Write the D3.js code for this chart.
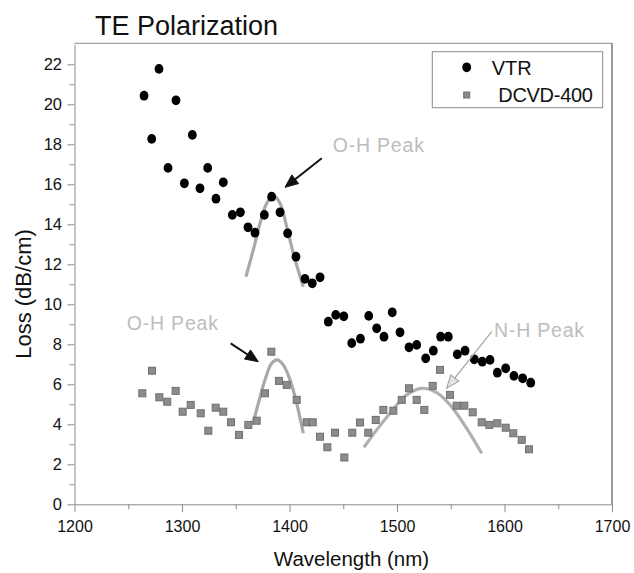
<!DOCTYPE html>
<html>
<head>
<meta charset="utf-8">
<script src="https://cdn.jsdelivr.net/npm/d3@7"></script>
<style>
  html, body { margin: 0; padding: 0; background: #fff; }
  svg { display: block; font-family: "Liberation Sans", Arial, sans-serif; }
</style>
</head>
<body>
<svg id="chart" width="634" height="573"></svg>
<script>
// Waveguide loss spectra, TE polarization
const vtrWavelength = [1264.7, 1271.8, 1278.6, 1287.0, 1294.4, 1302.2, 1309.6, 1316.7, 1323.9, 1331.6,
  1338.4, 1346.8, 1354.3, 1361.4, 1367.9, 1376.6, 1383.4, 1391.2, 1398.3, 1406.0,
  1414.4, 1421.2, 1428.4, 1436.1, 1443.0, 1450.5, 1457.9, 1466.0, 1473.7, 1481.1,
  1487.9, 1495.6, 1502.8, 1511.2, 1518.3, 1526.7, 1533.8, 1540.6, 1547.7, 1556.1,
  1563.3, 1571.9, 1579.3, 1586.5, 1593.3, 1601.1, 1608.8, 1616.9, 1624.4];
const vtrLoss = [20.43, 18.27, 21.77, 16.82, 20.2, 16.05, 18.47, 15.8, 16.82, 15.28,
  16.1, 14.47, 14.6, 13.85, 13.58, 14.47, 15.38, 14.6, 13.55, 12.38,
  11.27, 11.05, 11.35, 9.13, 9.47, 9.4, 8.06, 8.28, 9.42, 8.8,
  8.38, 9.6, 8.6, 7.85, 7.97, 7.3, 7.68, 8.38, 8.38, 7.5,
  7.68, 7.25, 7.13, 7.22, 6.58, 6.8, 6.42, 6.3, 6.08];

const dcvdWavelength = [1263.1, 1272.1, 1278.9, 1286.3, 1294.1, 1300.6, 1308.1, 1317.4, 1324.5, 1331.3,
  1338.4, 1345.6, 1353.0, 1361.7, 1369.5, 1377.2, 1383.1, 1390.2, 1397.4, 1406.7,
  1416.0, 1421.6, 1428.4, 1435.2, 1442.3, 1451.0, 1458.4, 1465.6, 1473.3, 1480.2,
  1487.3, 1496.6, 1504.4, 1511.2, 1518.3, 1525.4, 1533.2, 1540.0, 1549.3, 1555.5,
  1562.6, 1570.4, 1578.8, 1585.9, 1593.3, 1601.1, 1608.2, 1616.0, 1622.8];
const dcvdLoss = [5.55, 6.68, 5.35, 5.13, 5.67, 4.63, 4.97, 4.55, 3.68, 4.83,
  4.63, 4.1, 3.47, 3.97, 4.18, 5.55, 7.63, 6.17, 5.97, 5.22,
  4.1, 4.1, 3.38, 2.85, 3.58, 2.34, 3.58, 4.09, 3.58, 4.22,
  4.72, 4.68, 5.22, 5.8, 5.22, 4.72, 5.92, 6.72, 5.47, 4.93,
  4.93, 4.6, 4.1, 3.97, 4.05, 3.83, 3.55, 3.22, 2.75];

// Peak fit curves (sampled along the drawn fits)
const fitVtrOH_x = [1359.5, 1366.3, 1372.6, 1378.8, 1385.0, 1391.2, 1397.4, 1403.5, 1412.8];
const fitVtrOH_y = [11.38, 12.72, 14.05, 15.05, 15.43, 15.05, 13.88, 12.55, 10.88];
const fitDcvdOH_x = [1365.8, 1371.0, 1377.2, 1383.4, 1388.7, 1394.2, 1400.5, 1406.7, 1412.8];
const fitDcvdOH_y = [3.97, 5.05, 6.22, 7.05, 7.22, 6.97, 6.22, 5.05, 3.55];
const fitDcvdNH_x = [1469.3, 1481.1, 1493.5, 1509.0, 1523.0, 1537.0, 1549.3, 1564.8, 1578.8];
const fitDcvdNH_y = [2.85, 3.72, 4.55, 5.47, 5.8, 5.58, 4.97, 3.8, 2.55];

// Axis ticks
const xTicks = [1200, 1300, 1400, 1500, 1600, 1700];
const xMinorTicks = [1250, 1350, 1450, 1550, 1650];
const yTicks = [0, 2, 4, 6, 8, 10, 12, 14, 16, 18, 20, 22];
const yMinorTicks = [1, 3, 5, 7, 9, 11, 13, 15, 17, 19, 21];

// Annotation labels and arrows (in data units)
const noteText = ["O-H Peak", "O-H Peak", "N-H Peak"];
const noteTextX = [1440.2, 1248.6, 1590.2];
const noteTextY = [17.63, 8.72, 8.38];
const arrowFromX = [1430.0, 1345.3, 1588.1];
const arrowFromY = [17.3, 8.05, 8.63];
const arrowToX = [1395.8, 1371.0, 1546.2];
const arrowToY = [15.85, 7.13, 5.8];
const arrowStyle = ["dark", "dark", "light"];

const seriesNames = ["VTR", "DCVD-400"];

const svg = d3.select("#chart");
const plotLeft = 74.5, plotRight = 612, plotTop = 44.3, plotBottom = 504.3;

const x = d3.scaleLinear().domain([1200, 1700]).range([plotLeft, plotRight]);
const y = d3.scaleLinear().domain([0, 23]).range([plotBottom, plotTop]);

// Frame: top and right borders
svg.append("line").attr("x1", plotLeft).attr("x2", plotRight).attr("y1", plotTop - 1).attr("y2", plotTop - 1)
  .attr("stroke", "#8a8a8a").attr("stroke-width", 1);
svg.append("line").attr("x1", plotRight).attr("x2", plotRight).attr("y1", plotTop - 1).attr("y2", plotBottom)
  .attr("stroke", "#555").attr("stroke-width", 1.2);

// X axis
const xAxis = svg.append("g").attr("transform", `translate(0,${plotBottom})`)
  .call(d3.axisBottom(x).tickValues(xTicks).tickFormat(d3.format("d")).tickSize(8).tickSizeOuter(0));
const xMinor = svg.append("g").attr("transform", `translate(0,${plotBottom})`)
  .call(d3.axisBottom(x).tickValues(xMinorTicks).tickFormat("").tickSize(5).tickSizeOuter(0));
xMinor.select(".domain").remove();

// Y axis
const yAxis = svg.append("g").attr("transform", `translate(${plotLeft},0)`)
  .call(d3.axisLeft(y).tickValues(yTicks).tickFormat(d3.format("d")).tickSize(7).tickSizeOuter(0));
const yMinor = svg.append("g").attr("transform", `translate(${plotLeft},0)`)
  .call(d3.axisLeft(y).tickValues(yMinorTicks).tickFormat("").tickSize(5).tickSizeOuter(0));
yMinor.select(".domain").remove();

[xAxis, xMinor, yAxis, yMinor].forEach(g => {
  g.selectAll(".domain").attr("stroke", "#8c8c8c");
  g.selectAll(".tick line").attr("stroke", "#8c8c8c");
  g.selectAll(".tick text").attr("fill", "#111").style("font-family", "'Liberation Sans', Arial, sans-serif");
});
xAxis.selectAll(".tick text").style("font-size", "16px").attr("dy", "1.05em");
yAxis.selectAll(".tick text").style("font-size", "16.5px").attr("x", -12.5);

// Axis titles
svg.append("text").attr("x", 351.5).attr("y", 566).attr("text-anchor", "middle")
  .style("font-size", "20.5px").attr("fill", "#111").text("Wavelength (nm)");
svg.append("text").attr("transform", "translate(31,294) rotate(-90)").attr("text-anchor", "middle")
  .style("font-size", "22px").attr("fill", "#111").text("Loss (dB/cm)");

// Title
svg.append("text").attr("x", 95).attr("y", 35).style("font-size", "27px").attr("fill", "#111")
  .text("TE Polarization");

// Fit curves
const fitLine = d3.line().x(d => x(d[0])).y(d => y(d[1])).curve(d3.curveCatmullRom.alpha(0.5));
const fits = [
  { xs: fitVtrOH_x, ys: fitVtrOH_y, color: "#a9a9a9" },
  { xs: fitDcvdOH_x, ys: fitDcvdOH_y, color: "#a9a9a9" },
  { xs: fitDcvdNH_x, ys: fitDcvdNH_y, color: "#b0b0b0" }
];
fits.forEach(f => {
  svg.append("path").datum(f.xs.map((v, i) => [v, f.ys[i]]))
    .attr("d", fitLine).attr("fill", "none").attr("stroke", f.color)
    .attr("stroke-width", 3.2).attr("stroke-linecap", "butt");
});

// DCVD-400 squares
const sq = 7;
svg.append("g").selectAll("rect").data(dcvdWavelength.map((v, i) => [v, dcvdLoss[i]]))
  .join("rect")
  .attr("x", d => x(d[0]) - sq / 2).attr("y", d => y(d[1]) - sq / 2)
  .attr("width", sq).attr("height", sq)
  .attr("fill", "#8c8c8c").attr("stroke", "#6f6f6f").attr("stroke-width", 1);

// VTR dots
svg.append("g").selectAll("ellipse").data(vtrWavelength.map((v, i) => [v, vtrLoss[i]]))
  .join("ellipse")
  .attr("cx", d => x(d[0])).attr("cy", d => y(d[1]))
  .attr("rx", 4.4).attr("ry", 4.9).attr("fill", "#000");

// Annotation labels
noteText.forEach((t, i) => {
  svg.append("text").attr("x", x(noteTextX[i])).attr("y", y(noteTextY[i]))
    .style("font-size", "19.5px").style("letter-spacing", "0.8px")
    .attr("fill", "#bdbdbd").text(t);
});

// Annotation arrows
arrowFromX.forEach((_, i) => {
  const x1 = x(arrowFromX[i]), y1 = y(arrowFromY[i]);
  const x2 = x(arrowToX[i]), y2 = y(arrowToY[i]);
  const ang = Math.atan2(y2 - y1, x2 - x1);
  const dark = arrowStyle[i] === "dark";
  const headLen = 13, headW = dark ? 5.5 : 5;
  const bx = x2 - headLen * Math.cos(ang), by = y2 - headLen * Math.sin(ang);
  const px = -Math.sin(ang) * headW, py = Math.cos(ang) * headW;
  svg.append("line").attr("x1", x1).attr("y1", y1).attr("x2", bx).attr("y2", by)
    .attr("stroke", dark ? "#111" : "#a8a8a8").attr("stroke-width", dark ? 2 : 1.3);
  svg.append("path")
    .attr("d", `M${x2},${y2}L${bx + px},${by + py}L${bx - px},${by - py}Z`)
    .attr("fill", dark ? "#111" : "#e6e6e6")
    .attr("stroke", dark ? "#111" : "#a8a8a8").attr("stroke-width", dark ? 1 : 1.2);
});

// Legend
const lg = svg.append("g");
lg.append("rect").attr("x", 432.3).attr("y", 51.7).attr("width", 170.4).attr("height", 56)
  .attr("fill", "#fff").attr("stroke", "#8a8a8a").attr("stroke-width", 1);
lg.append("ellipse").attr("cx", 466.7).attr("cy", 67.3).attr("rx", 4.4).attr("ry", 4.9).attr("fill", "#000");
lg.append("rect").attr("x", 466.7 - 3).attr("y", 95 - 3).attr("width", 6).attr("height", 6)
  .attr("fill", "#8c8c8c").attr("stroke", "#6f6f6f").attr("stroke-width", 1);
lg.append("text").attr("x", 491.7).attr("y", 74.5).style("font-size", "20px").attr("fill", "#111")
  .text(seriesNames[0]);
lg.append("text").attr("x", 498.3).attr("y", 102).style("font-size", "20px").attr("fill", "#111")
  .style("letter-spacing", "-0.3px").text(seriesNames[1]);
</script>
</body>
</html>
